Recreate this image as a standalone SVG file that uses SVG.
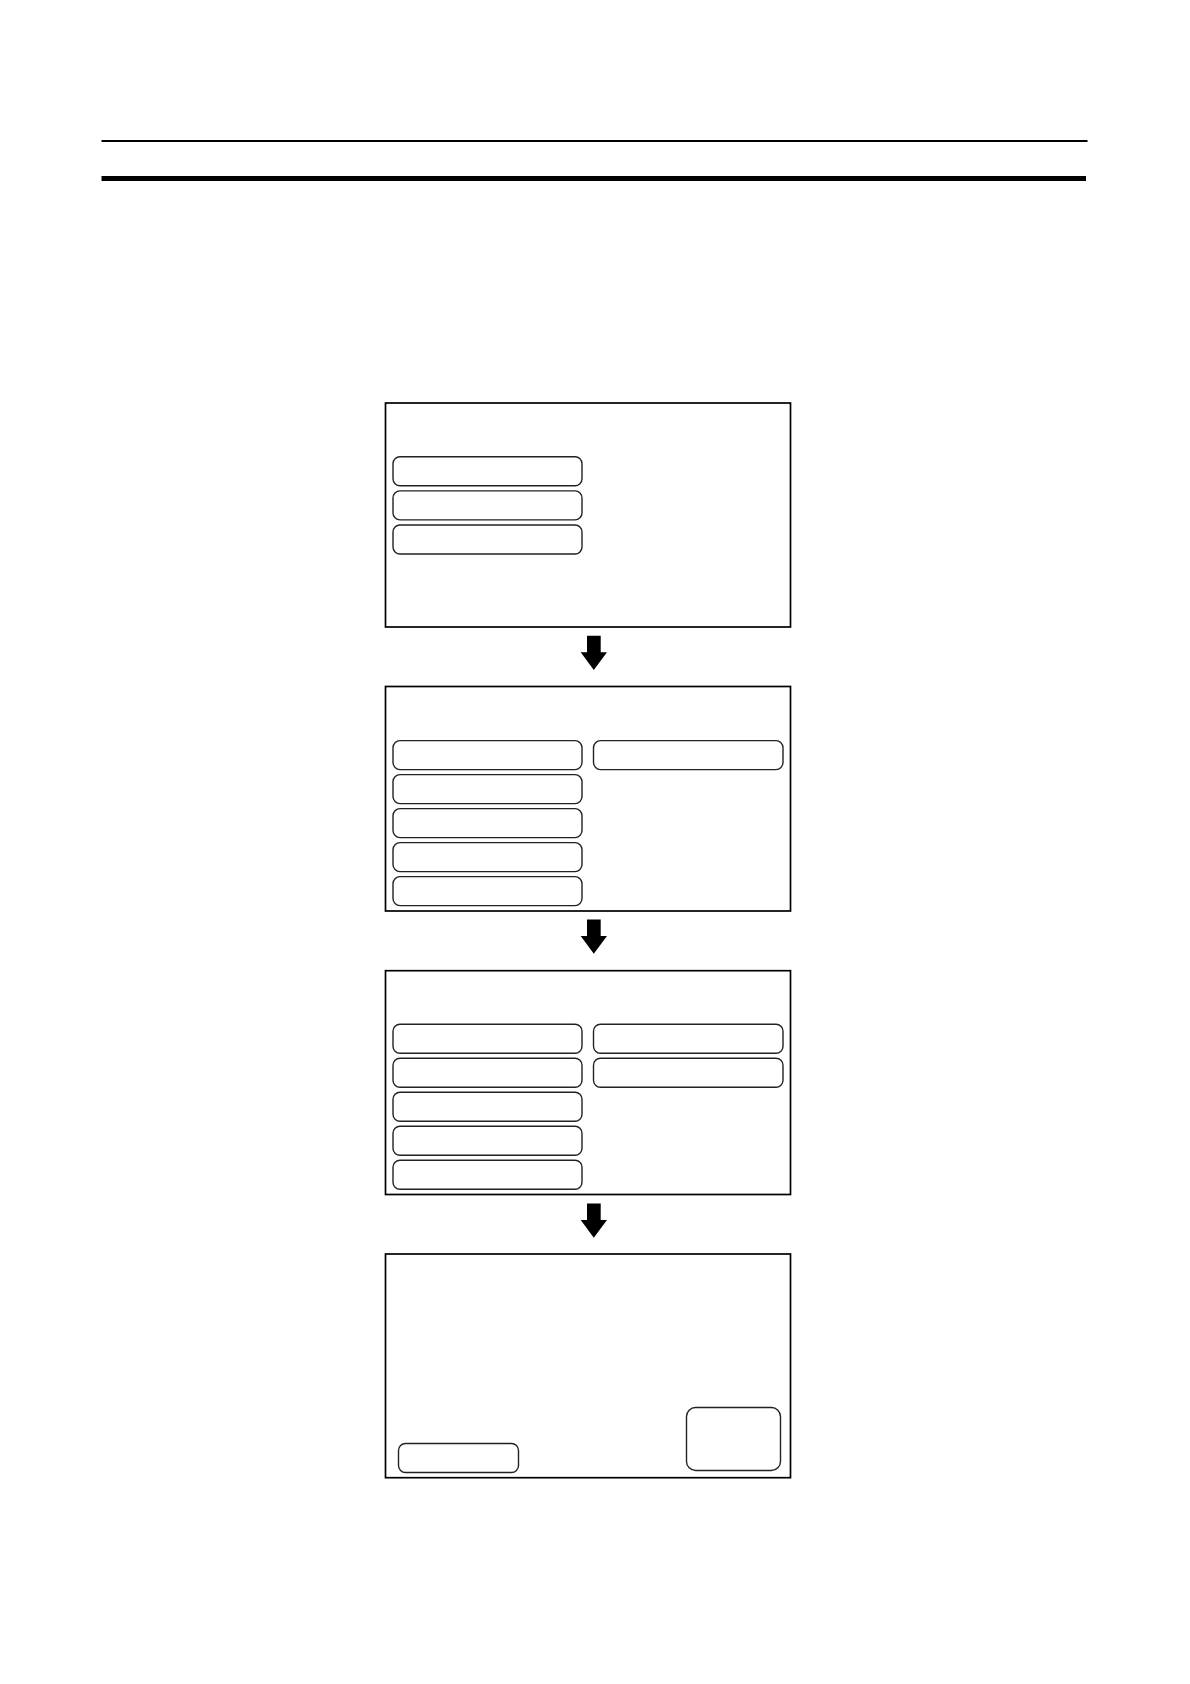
<svg xmlns="http://www.w3.org/2000/svg" width="1190" height="1684" viewBox="0 0 1190 1684">
<style>
.frame{fill:#fff;stroke:#000;stroke-width:1.7}
.btn{fill:#fff;stroke:#222;stroke-width:1.4}
.arrow{fill:#000}
</style>
<defs>
<polygon id="arr" points="587,0 600.7,0 600.7,16.6 607,16.6 593.8,34.3 580.7,16.6 587,16.6"/>
</defs>
<rect width="1190" height="1684" fill="#fff"/>
<g id="header">
<line x1="101.5" y1="141" x2="1087.5" y2="141" stroke="#000" stroke-width="2"/>
<line x1="101.5" y1="178.5" x2="1086" y2="178.5" stroke="#000" stroke-width="5"/>
</g>
<g id="screen1">
<rect class="frame" x="385.5" y="403" width="405" height="224"/>
<rect class="btn" x="393" y="456.7" width="189" height="29" rx="7"/>
<rect class="btn" x="393" y="490.9" width="189" height="29" rx="7"/>
<rect class="btn" x="393" y="525" width="189" height="29" rx="7"/>
</g>
<g id="screen2">
<rect class="frame" x="385.5" y="686.5" width="405" height="224.5"/>
<rect class="btn" x="393" y="740.6" width="189" height="29" rx="7"/>
<rect class="btn" x="393" y="774.6" width="189" height="29" rx="7"/>
<rect class="btn" x="393" y="808.6" width="189" height="29" rx="7"/>
<rect class="btn" x="393" y="842.6" width="189" height="29" rx="7"/>
<rect class="btn" x="393" y="876.6" width="189" height="29" rx="7"/>
<rect class="btn" x="593.5" y="740.6" width="189.5" height="29" rx="7"/>
</g>
<g id="screen3">
<rect class="frame" x="385.5" y="970.7" width="405" height="223.8"/>
<rect class="btn" x="393" y="1024.3" width="189" height="29" rx="7"/>
<rect class="btn" x="393" y="1058.3" width="189" height="29" rx="7"/>
<rect class="btn" x="393" y="1092.3" width="189" height="29" rx="7"/>
<rect class="btn" x="393" y="1126.3" width="189" height="29" rx="7"/>
<rect class="btn" x="393" y="1160.3" width="189" height="29" rx="7"/>
<rect class="btn" x="593.5" y="1024.3" width="189.5" height="29" rx="7"/>
<rect class="btn" x="593.5" y="1058.3" width="189.5" height="29" rx="7"/>
</g>
<g id="screen4">
<rect class="frame" x="385.5" y="1254" width="405" height="223.7"/>
<rect class="btn" x="398.5" y="1443.5" width="120" height="29" rx="7"/>
<rect class="btn" x="686.5" y="1407.5" width="94" height="63" rx="9"/>
</g>
<g id="connectors">
<use href="#arr" class="arrow" y="635.7"/>
<use href="#arr" class="arrow" y="919.5"/>
<use href="#arr" class="arrow" y="1203.5"/>
</g>
</svg>
